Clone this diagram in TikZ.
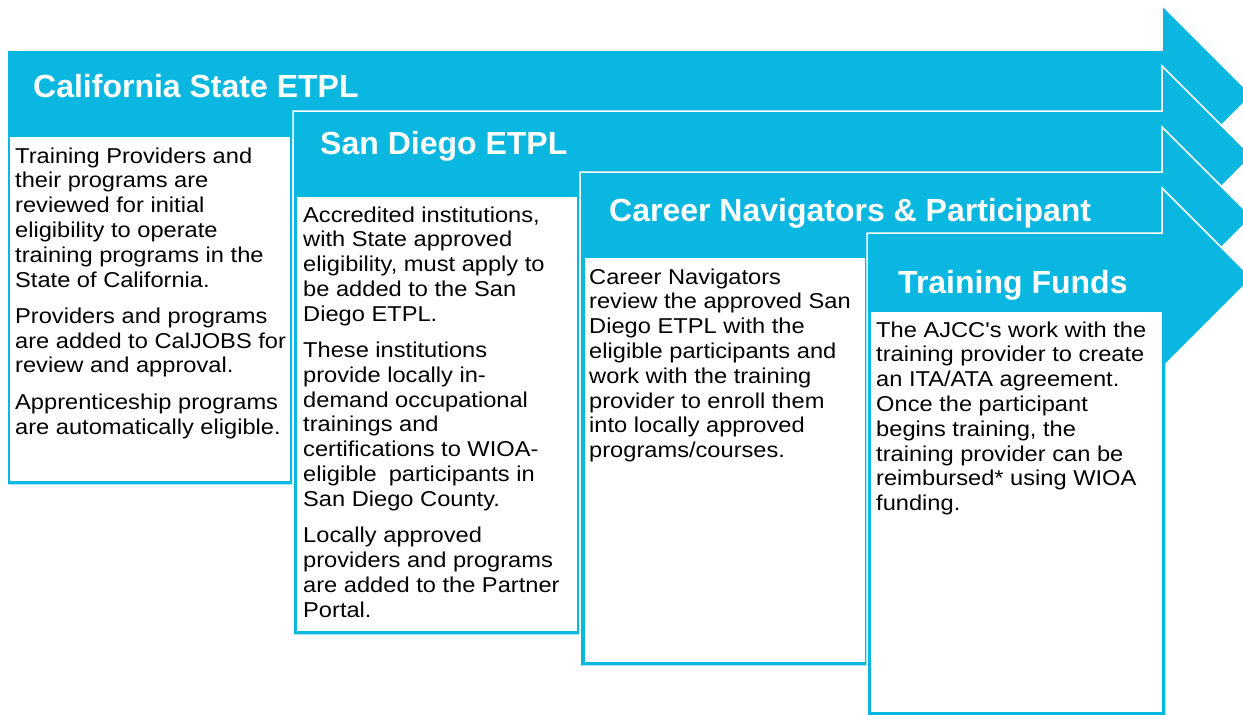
\documentclass[tikz,border=0pt]{standalone}
\usepackage{fontspec}
\setmainfont{Liberation Sans}
\newfontfamily\bodyfont[FakeStretch=1.10]{Liberation Sans}
\newfontfamily\headfont{Liberation Sans}
\definecolor{flowcyan}{RGB}{10,183,224}

% text block whose baseline is the baseline of its first line
\newcommand\cardtext[1]{\parbox[t]{300pt}{\bodyfont\fontsize{21.5}{24.8}\selectfont\raggedright #1}}
\newcommand\paragap{\\[11.5pt]}

\tikzset{
  arrowshape/.style={fill=flowcyan, draw=white, line width=1.5pt, line join=miter},
  cardbox/.style={fill=white, draw=none},
  headtext/.style={anchor=base west, inner sep=0pt, text=white,
                   font=\headfont\bfseries\fontsize{32}{36}\selectfont},
  bodytext/.style={anchor=base west, inner sep=0pt, text=black},
}

\begin{document}
\begin{tikzpicture}[x=1pt, y=-1pt]
  \useasboundingbox (0,0) rectangle (1243,715);
  \clip (0,0) rectangle (1243,715);

  % stage 1: California State ETPL
  \path[arrowshape] (7,50) -- (1162,50) -- (1162,5) -- (1252,95) -- (1162,185)
        -- (1162,140) -- (293,140) -- (293,485) -- (7,485) -- cycle;
  \path[cardbox] (9.5,137) rectangle (290,481);

  % stage 2: San Diego ETPL
  \path[arrowshape] (293,111) -- (1162,111) -- (1162,66) -- (1252,156) -- (1162,246)
        -- (1162,201) -- (580,201) -- (580,635) -- (293,635) -- cycle;
  \path[cardbox] (297,197) rectangle (576.5,631);

  % stage 3: Career Navigators & Participant
  \path[arrowshape] (580,172) -- (1162,172) -- (1162,127) -- (1252,217) -- (1162,307)
        -- (1162,262) -- (868,262) -- (868,666) -- (580,666) -- cycle;
  \path[cardbox] (584.5,258) rectangle (864.5,662);

  % stage 4: Training Funds
  \path[arrowshape] (867,233) -- (1162,233) -- (1162,188) -- (1252,278)
        -- (1166,364) -- (1166,716) -- (867,716) -- cycle;
  \path[cardbox] (870.5,312) rectangle (1162,712);

  % headings
  \node[headtext] (h1) at (33,97) {California State ETPL};
  \node[headtext] (h2) at (320,154) {San Diego ETPL};
  \node[headtext] (h3) at (609,221) {Career Navigators \& Participant};
  \node[headtext] (h4) at (898,293) {Training Funds};

  % descriptions
  \node[bodytext] (t1) at (15,163) {\cardtext{%
    Training Providers and\\
    their programs are\\
    reviewed for initial\\
    eligibility to operate\\
    training programs in the\\
    State of California.\paragap
    Providers and programs\\
    are added to CalJOBS for\\
    review and approval.\paragap
    Apprenticeship programs\\
    are automatically eligible.}};

  \node[bodytext] (t2) at (303,222) {\cardtext{%
    Accredited institutions,\\
    with State approved\\
    eligibility, must apply to\\
    be added to the San\\
    Diego ETPL.\paragap
    These institutions\\
    provide locally in-\\
    demand occupational\\
    trainings and\\
    certifications to WIOA-\\
    eligible\hspace{12pt}participants in\\
    San Diego County.\paragap
    Locally approved\\
    providers and programs\\
    are added to the Partner\\
    Portal.}};

  \node[bodytext] (t3) at (589,284) {\cardtext{%
    Career Navigators\\
    review the approved San\\
    Diego ETPL with the\\
    eligible participants and\\
    work with the training\\
    provider to enroll them\\
    into locally approved\\
    programs/courses.}};

  \node[bodytext] (t4) at (876,337) {\cardtext{%
    The AJCC's work with the\\
    training provider to create\\
    an ITA/ATA agreement.\\
    Once the participant\\
    begins training, the\\
    training provider can be\\
    reimbursed* using WIOA\\
    funding.}};
\end{tikzpicture}
\end{document}
